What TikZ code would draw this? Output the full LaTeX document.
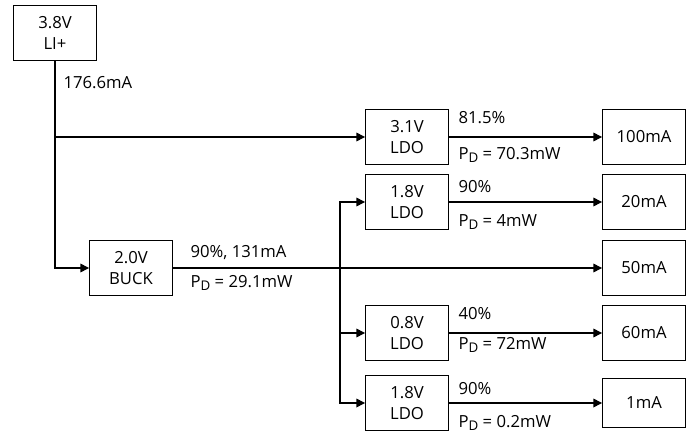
\documentclass[tikz,border=0pt]{standalone}
\usepackage{fontspec}
\setmainfont{Open Sans}
\usetikzlibrary{arrows.meta}
\newcommand{\pdsub}{P\raisebox{-0.4ex}{\fontsize{10}{10}\selectfont D}}

\begin{document}
\begin{tikzpicture}[x=0.75pt, y=-0.75pt, >={Triangle[length=6.5pt,width=6.5pt]}, line width=0.9pt,
		blk/.style={draw, minimum width=62pt, minimum height=41pt, inner sep=0pt, align=center, font=\fontsize{12.5}{16}\selectfont},
		lbl/.style={anchor=west, inner sep=0pt, font=\fontsize{12.5}{14}\selectfont}]
		\useasboundingbox (0,0) rectangle (691,434);
		% sources and regulators
		\node[blk] (bat)  at (55,33)   {3.8V\\LI+};
		\node[blk] (buck) at (131,268) {2.0V\\BUCK};
		\node[blk] (ldoA) at (407,137) {3.1V\\LDO};
		\node[blk] (ldoB) at (407,202) {1.8V\\LDO};
		\node[blk] (ldoC) at (407,333) {0.8V\\LDO};
		\node[blk] (ldoD) at (407,403) {1.8V\\LDO};
		% loads
		\node[blk] (ldA) at (644,137) {100mA};
		\node[blk] (ldB) at (644,202) {20mA};
		\node[blk] (ldE) at (644,268) {50mA};
		\node[blk] (ldC) at (644,333) {60mA};
		\node[blk, minimum height=37pt] (ldD) at (644,403) {1mA};
		\coordinate (jB) at (340,268);
		% connectors
		\draw[->] (bat.south) |- (buck.west);
		\draw[->] (bat.south |- ldoA) -- (ldoA.west);
		\draw[->] (buck.east) -- (ldE.west);
		\draw[->] (jB) |- (ldoB.west);
		\draw[->] (jB) |- (ldoC.west);
		\draw[->] (jB) |- (ldoD.west);
		\draw[->] (ldoA.east) -- (ldA.west);
		\draw[->] (ldoB.east) -- (ldB.west);
		\draw[->] (ldoC.east) -- (ldC.west);
		\draw[->] (ldoD.east) -- (ldD.west);
		% labels
		\node[lbl] (iBat)  at (63,83)   {176.6mA};
		\node[lbl] (eBuck) at (190,253) {90\%, 131mA};
		\node[lbl] (pBuck) at (190,283) {\pdsub{} = 29.1mW};
		\node[lbl] (eA) at (458,118) {81.5\%};
		\node[lbl] (pA) at (458,155) {\pdsub{} = 70.3mW};
		\node[lbl] (eB) at (458,187) {90\%};
		\node[lbl] (pB) at (458,222) {\pdsub{} = 4mW};
		\node[lbl] (eC) at (458,314) {40\%};
		\node[lbl] (pC) at (458,345) {\pdsub{} = 72mW};
		\node[lbl] (eD) at (458,389) {90\%};
		\node[lbl] (pD) at (458,423) {\pdsub{} = 0.2mW};
	\end{tikzpicture}
\end{document}
